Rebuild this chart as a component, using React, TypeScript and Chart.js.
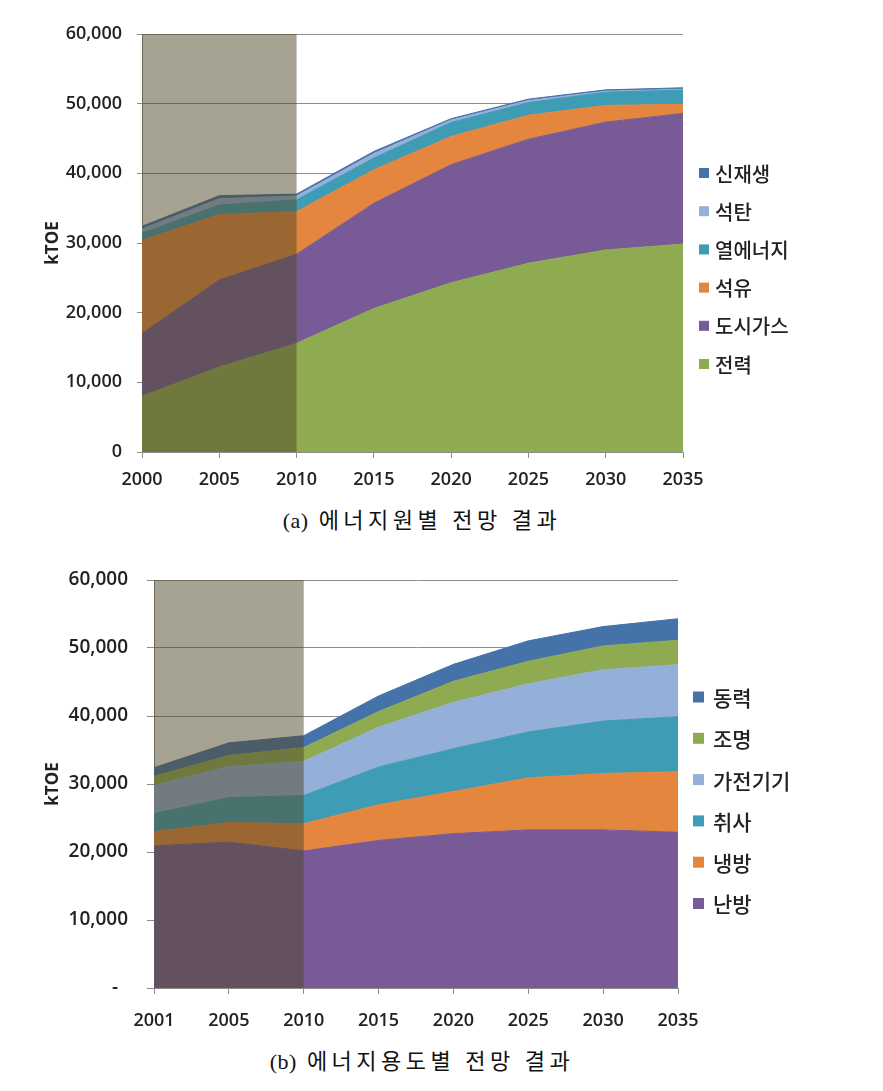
import React, { useEffect, useRef } from 'react';
import { Chart, registerables } from 'chart.js';

Chart.register(...registerables);

// ---------- (a) 에너지원별 전망 결과 ----------
const sourceYears = ['2000', '2005', '2010', '2015', '2020', '2025', '2030', '2035'];
const electricity = [8000, 12200, 15600, 20600, 24300, 27100, 29000, 29850];
const cityGas = [9000, 12500, 12800, 15100, 16950, 17800, 18350, 18750];
const oil = [13400, 9400, 6100, 4800, 4050, 3450, 2400, 1300];
const heatEnergy = [1000, 1350, 1700, 1700, 2000, 1800, 1900, 2050];
const coal = [600, 900, 550, 650, 350, 300, 150, 130];
const renewables = [400, 450, 270, 300, 200, 200, 180, 200];

// ---------- (b) 에너지용도별 전망 결과 ----------
const usageYears = ['2001', '2005', '2010', '2015', '2020', '2025', '2030', '2035'];
const spaceHeating = [20900, 21450, 20150, 21700, 22700, 23250, 23250, 22900];
const cooling = [2100, 2900, 4000, 5250, 6200, 7650, 8300, 8900];
const cooking = [2650, 3650, 4150, 5550, 6300, 6750, 7700, 8100];
const appliances = [4150, 4550, 5050, 5850, 6800, 7100, 7550, 7650];
const lighting = [1350, 1650, 2000, 2300, 3100, 3300, 3500, 3600];
const motivePower = [1250, 1850, 1750, 2300, 2500, 3000, 2850, 3150];

const historyEnd = '2010';
const yMin = 0;
const yMax = 60000;
const yStep = 10000;
const yTitle = 'kTOE';
const captionTagA = '(a)';
const captionTextA = '에너지원별 전망 결과';
const captionTagB = '(b)';
const captionTextB = '에너지용도별 전망 결과';

// ---------- styling ----------
const C = {
  green: '#8FAB52',
  purple: '#775A96',
  orange: '#E5863E',
  teal: '#3F9CB5',
  lightBlue: '#95B0D8',
  blue: '#4672AA',
};
const gridColor = '#8c8c8c';
const textColor = '#222222';
const latinFont = '"Open Sans", "Noto Sans", sans-serif';
const koreanFont = '"Noto Sans CJK KR", "Noto Sans", sans-serif';

type Layer = { label: string; data: number[]; color: string };

const historyShade = {
  id: 'historyShade',
  afterDatasetsDraw(chart: any, _args: any, opts: any) {
    const { ctx, chartArea, scales } = chart;
    const x = scales.x;
    const labels = chart.data.labels as string[];
    const x0 = x.getPixelForValue(0);
    const x1 = x.getPixelForValue(labels.indexOf(opts.end));
    ctx.save();
    ctx.fillStyle = opts.color;
    ctx.fillRect(x0, chartArea.top, x1 - x0, chartArea.bottom - chartArea.top);
    ctx.restore();
  },
};

const sideLegend = {
  id: 'sideLegend',
  afterDraw(chart: any, _args: any, opts: any) {
    const { ctx, chartArea } = chart;
    const ds = chart.data.datasets.slice().reverse();
    ctx.save();
    ctx.font = `500 ${opts.font}px ${koreanFont}`;
    ctx.textBaseline = 'middle';
    ctx.textAlign = 'left';
    ds.forEach((d: any, i: number) => {
      const y = chartArea.top + opts.firstY + i * opts.gap;
      ctx.fillStyle = d.backgroundColor;
      ctx.fillRect(chartArea.right + opts.markerX, y - opts.box / 2, opts.box, opts.box);
      ctx.fillStyle = textColor;
      ctx.fillText(d.label, chartArea.right + opts.textX, y + 1);
    });
    ctx.restore();
  },
};

type Geo = {
  axisWidth: number;
  axisHeight: number;
  padTop: number;
  padRight: number;
  yFont: number;
  xFont: number;
  yPad: number;
  xPad: number;
  yTickLen: number;
  xTickLen: number;
  zeroLabel: string;
  legend: { markerX: number; textX: number; firstY: number; gap: number; box: number; font: number };
};

function buildConfig(labels: string[], layers: Layer[], g: Geo): any {
  return {
    type: 'line',
    data: {
      labels,
      datasets: layers.map((l, i) => ({
        label: l.label,
        data: l.data,
        backgroundColor: l.color,
        borderColor: l.color,
        borderWidth: 1,
        pointRadius: 0,
        pointHoverRadius: 0,
        tension: 0,
        fill: i === 0 ? 'origin' : '-1',
      })),
    },
    options: {
      responsive: false,
      maintainAspectRatio: false,
      animation: false,
      events: [],
      layout: { padding: { top: g.padTop, right: g.padRight, left: 0, bottom: 0 } },
      plugins: {
        legend: { display: false },
        tooltip: { enabled: false },
        title: { display: false },
        historyShade: { end: historyEnd, color: 'rgba(79,71,39,0.5)' },
        sideLegend: g.legend,
      },
      scales: {
        x: {
          type: 'category',
          offset: false,
          grid: {
            display: true,
            drawOnChartArea: false,
            drawTicks: true,
            tickLength: g.xTickLen,
            color: gridColor,
          },
          border: { display: true, color: gridColor, width: 1 },
          ticks: {
            autoSkip: false,
            maxRotation: 0,
            minRotation: 0,
            padding: g.xPad,
            color: textColor,
            font: { family: latinFont, size: g.xFont, weight: '600' },
          },
          afterFit: (s: any) => {
            s.height = g.axisHeight;
          },
        },
        y: {
          type: 'linear',
          stacked: true,
          min: yMin,
          max: yMax,
          grid: { color: gridColor, tickLength: g.yTickLen, drawTicks: true },
          border: { display: true, color: gridColor, width: 1 },
          ticks: {
            stepSize: yStep,
            padding: g.yPad,
            color: textColor,
            font: { family: latinFont, size: g.yFont, weight: '600' },
            callback: (v: any) => (Number(v) === 0 ? g.zeroLabel : Number(v).toLocaleString('en-US')),
          },
          title: {
            display: true,
            text: yTitle,
            color: textColor,
            font: { family: latinFont, size: 17, weight: 'bold' },
            padding: { top: 43, bottom: 0 },
          },
          afterFit: (s: any) => {
            s.width = g.axisWidth;
          },
        },
      },
    },
    plugins: [historyShade, sideLegend],
  };
}

function AreaChart({ top, make }: { top: number; make: () => any }) {
  const ref = useRef<HTMLCanvasElement>(null);
  useEffect(() => {
    const chart = new Chart(ref.current as HTMLCanvasElement, make());
    return () => chart.destroy();
  }, [make]);
  return (
    <canvas
      ref={ref}
      width={883}
      height={500}
      style={{ position: 'absolute', left: 0, top, width: 883, height: 500 }}
    />
  );
}

const makeA = () =>
  buildConfig(
    sourceYears,
    [
      { label: '전력', data: electricity, color: C.green },
      { label: '도시가스', data: cityGas, color: C.purple },
      { label: '석유', data: oil, color: C.orange },
      { label: '열에너지', data: heatEnergy, color: C.teal },
      { label: '석탄', data: coal, color: C.lightBlue },
      { label: '신재생', data: renewables, color: C.blue },
    ],
    {
      axisWidth: 142,
      axisHeight: 48,
      padTop: 34,
      padRight: 200,
      yFont: 18,
      xFont: 18,
      yPad: 15,
      xPad: 11,
      yTickLen: 5,
      xTickLen: 6,
      zeroLabel: '0',
      legend: { markerX: 16, textX: 32, firstY: 139, gap: 38.2, box: 10, font: 20 },
    }
  );

const makeB = () =>
  buildConfig(
    usageYears,
    [
      { label: '난방', data: spaceHeating, color: C.purple },
      { label: '냉방', data: cooling, color: C.orange },
      { label: '취사', data: cooking, color: C.teal },
      { label: '가전기기', data: appliances, color: C.lightBlue },
      { label: '조명', data: lighting, color: C.green },
      { label: '동력', data: motivePower, color: C.blue },
    ],
    {
      axisWidth: 154,
      axisHeight: 57,
      padTop: 35,
      padRight: 205,
      yFont: 19,
      xFont: 18,
      yPad: 19,
      xPad: 16,
      yTickLen: 7,
      xTickLen: 6,
      zeroLabel: '-  ',
      legend: { markerX: 15, textX: 35, firstY: 117, gap: 41.3, box: 11, font: 21 },
    }
  );

const captionStyle = (top: number): React.CSSProperties => ({
  position: 'absolute',
  left: 0,
  top,
  width: 844,
  height: 30,
  lineHeight: '30px',
  textAlign: 'center',
  fontFamily: '"Liberation Serif", "Noto Sans CJK KR", serif',
  fontSize: 22,
  color: '#111',
  whiteSpace: 'nowrap',
});

function Caption({ top, tag, text }: { top: number; tag: string; text: string }) {
  return (
    <div style={captionStyle(top)}>
      <span style={{ letterSpacing: '0.5px' }}>{tag}</span>
      <span style={{ letterSpacing: '4.5px' }}>{' ' + text}</span>
    </div>
  );
}

export default function App() {
  return (
    <div
      style={{
        position: 'absolute',
        left: 0,
        top: 0,
        width: 883,
        height: 1091,
        background: '#ffffff',
        overflow: 'hidden',
      }}
    >
      <AreaChart top={0} make={makeA} />
      <Caption top={506} tag={captionTagA} text={captionTextA} />
      <AreaChart top={545} make={makeB} />
      <Caption top={1047} tag={captionTagB} text={captionTextB} />
    </div>
  );
}
